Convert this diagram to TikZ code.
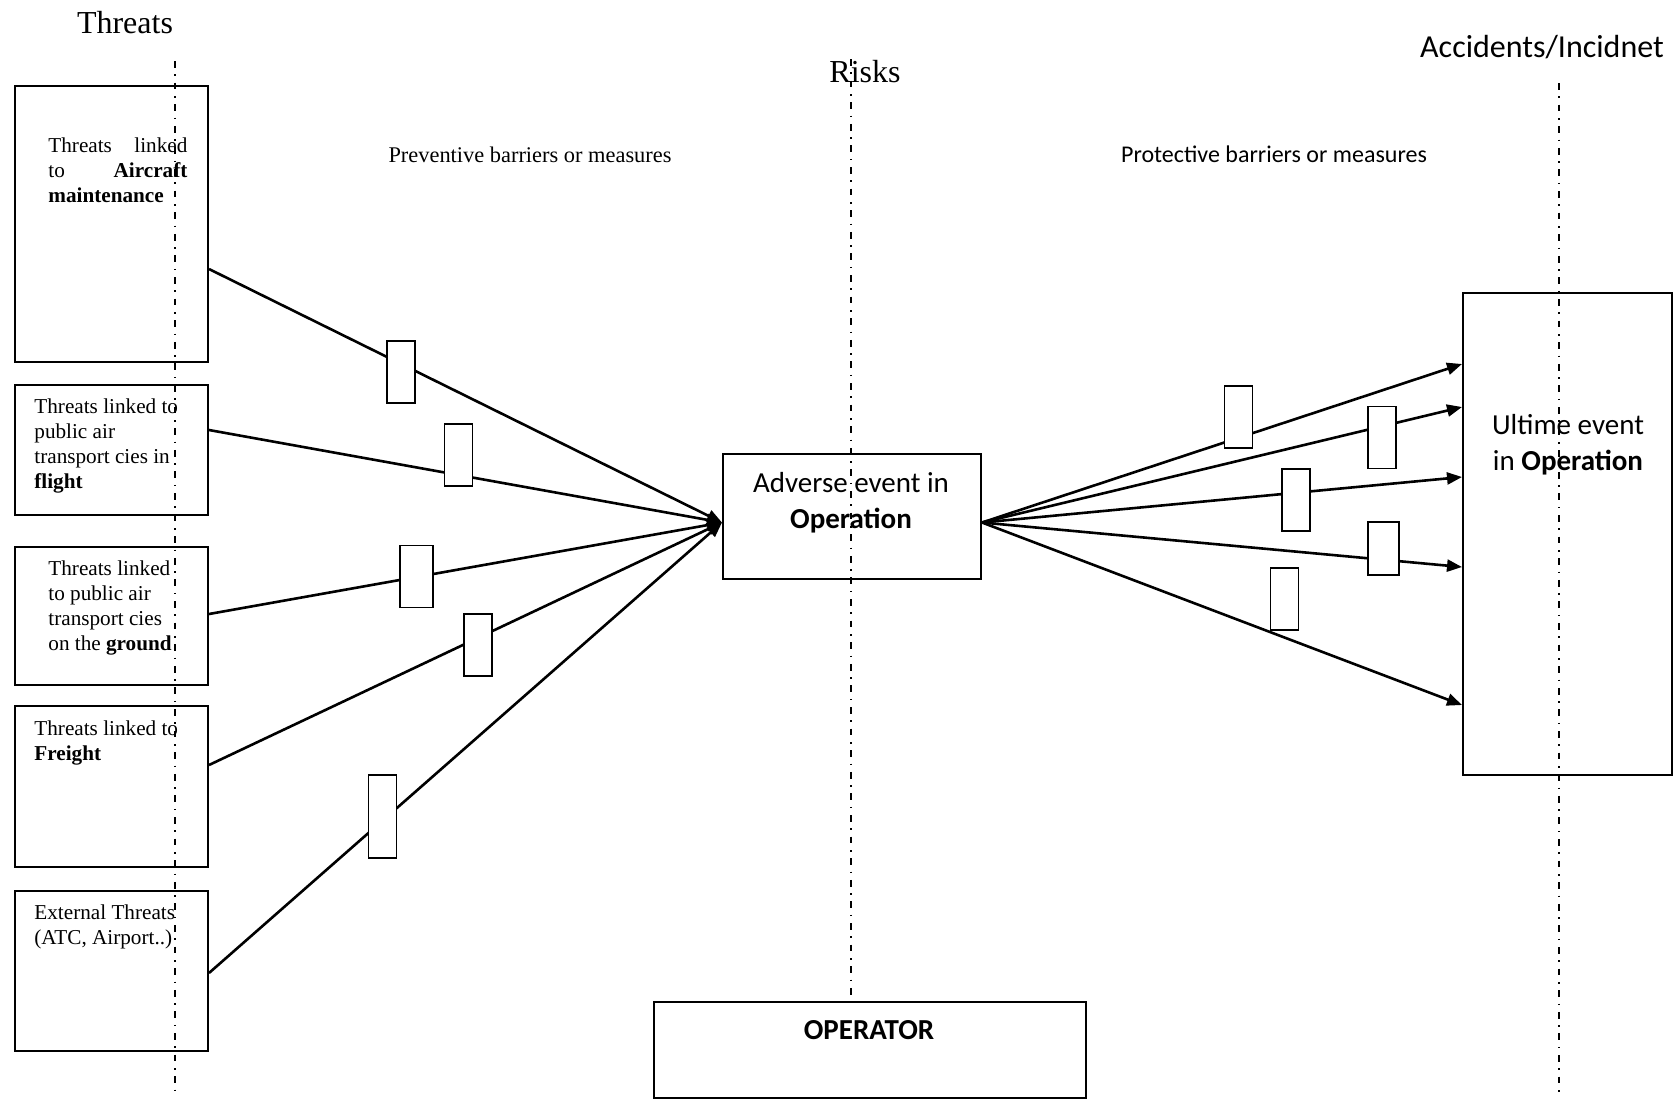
\documentclass[tikz,border=0pt]{standalone}
\usepackage{fontspec}
\setmainfont{Liberation Serif}
\newfontfamily\calibri{Carlito}
\usetikzlibrary{arrows.meta}

\begin{document}
\begin{tikzpicture}[x=0.5pt,y=-0.5pt,>={Triangle[length=7.5pt,width=6pt]},
  box/.style={draw,line width=1pt,anchor=north west,inner sep=0pt},
  threat/.style={box,minimum width=96.5pt},
  boxtext/.style={anchor=north west,inner sep=0pt,align=left,font=\fontsize{10.6}{12.5}\selectfont},
  sanstext/.style={inner sep=0pt,align=center,font=\calibri\fontsize{14.5}{18}\selectfont},
  barrier/.style={draw,fill=white,line width=0.8pt,minimum width=14pt,minimum height=31pt,inner sep=0pt},
  link/.style={line width=1.3pt},
  guide/.style={line width=0.8pt,dash pattern=on 3.4pt off 3.3pt on 0.8pt off 3.3pt}]
\useasboundingbox (0,0) rectangle (1675,1099);

% column titles
\node[anchor=base,inner sep=0pt,font=\fontsize{16}{19}\selectfont] (threats) at (125,33) {Threats};
\node[anchor=base,inner sep=0pt,font=\fontsize{16}{19}\selectfont] (risks) at (865,82) {Risks};
\node[anchor=base,inner sep=0pt,font=\calibri\fontsize{16}{19}\selectfont] (accidents) at (1542,57) {Accidents/Incidnet};
\node[anchor=base,inner sep=0pt,font=\fontsize{11.2}{13}\selectfont] (preventive) at (530,162) {Preventive barriers or measures};
\node[anchor=base,inner sep=0pt,font=\calibri\fontsize{12}{14}\selectfont] (protective) at (1274,162) {Protective barriers or measures};

% threat boxes
\node[threat,minimum height=138pt] (t1) at (14,85) {};
\node[threat,minimum height=65pt] (t2) at (14,384) {};
\node[threat,minimum height=69pt] (t3) at (14,546) {};
\node[threat,minimum height=80.5pt] (t4) at (14,705) {};
\node[threat,minimum height=80pt] (t5) at (14,890) {};
\node[boxtext,text width=69.5pt] (t1text) at (48,137) {Threats\hfill linked\\to\hfill\textbf{Aircraft}\\\textbf{maintenance}};
\node[boxtext] (t2text) at (34,398.5) {Threats linked to\\public air\\transport cies in\\\textbf{flight}};
\node[boxtext] (t3text) at (48,560.5) {Threats linked\\to public air\\transport cies\\on the \textbf{ground}};
\node[boxtext] (t4text) at (34,720.5) {Threats linked to\\\textbf{Freight}};
\node[boxtext] (t5text) at (34,904.5) {External Threats\\(ATC, Airport..)};

% events
\node[box,minimum width=129pt,minimum height=62.5pt] (adverse) at (722,453) {};
\node[sanstext,anchor=north] (adversetext) at (851,472) {Adverse event in\\\textbf{Operation}};
\node[box,minimum width=104.5pt,minimum height=241pt] (ultime) at (1462,292) {};
\node[sanstext,anchor=north] (ultimetext) at (1568,414) {Ultime event\\in \textbf{Operation}};
\node[box,minimum width=216pt,minimum height=48pt] (operator) at (653,1001) {};
\node[sanstext,anchor=base,font=\calibri\bfseries\fontsize{14.5}{18}\selectfont] (operatortext) at (869,1039) {OPERATOR};

% threats to adverse event
\foreach \t/\y in {t1/269,t2/430,t3/614,t4/765,t5/973}
  \draw[link,->] (\t.east |- 0,\y) -- ([yshift=-3pt]adverse.west);
% adverse event to ultimate event
\foreach \y in {364,407,477,567,705}
  \draw[link,->] ([yshift=-3pt]adverse.east) -- (ultime.west |- 0,\y);

% barriers
\foreach \n/\x/\y in {b1/401/372,b2/458.5/455,b4/478/645,p1/1238.5/417,p2/1382/437.5,p3/1296/500,p5/1284.5/599}
  \node[barrier] (\n) at (\x,\y) {};
\node[barrier,minimum width=16.5pt] (b3) at (416.5,576.5) {};
\node[barrier,minimum height=41.5pt] (b5) at (382.5,816.5) {};
\node[barrier,minimum width=15.5pt,minimum height=26.5pt] (p4) at (1383.5,548.5) {};

% dash-dot guides
\draw[guide] (175,61) -- (175,1095);
\draw[guide] (851,59) -- (851,1001);
\draw[guide] (1559,83) -- (1559,1095);
\end{tikzpicture}
\end{document}
